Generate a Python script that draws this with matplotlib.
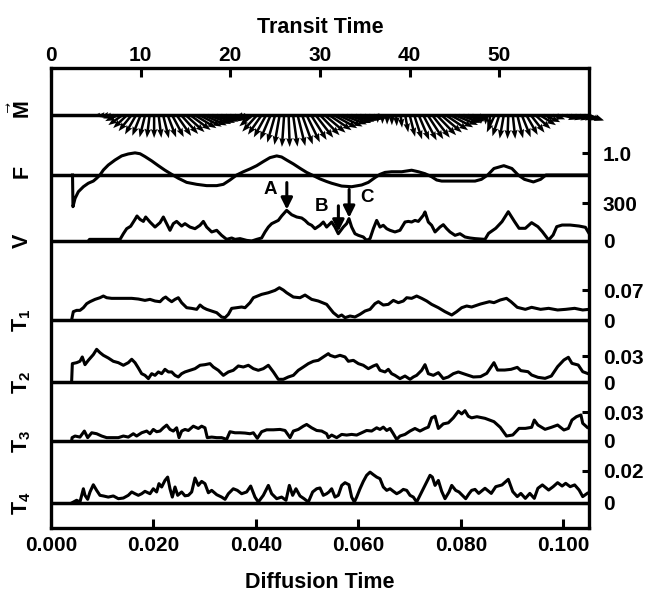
import numpy as np
import matplotlib.pyplot as plt
from matplotlib.transforms import blended_transform_factory

plt.rcParams['font.family'] = ['Liberation Sans', 'DejaVu Sans']
plt.rcParams['font.weight'] = 'bold'
plt.rcParams['axes.labelweight'] = 'bold'
plt.rcParams['mathtext.fontset'] = 'custom'
plt.rcParams['mathtext.rm'] = 'Liberation Sans:bold'
plt.rcParams['mathtext.bf'] = 'Liberation Sans:bold'
plt.rcParams['mathtext.it'] = 'Liberation Sans:bold:italic'

# ---- data (x in transit time units) ----
F_T = [2.40, 2.45, 2.68, 3.05, 3.61, 4.16, 4.72, 5.09, 5.46, 5.84,
       6.39, 7.14, 7.88, 8.62, 9.37, 9.93, 10.48, 11.23, 11.97, 12.71,
       13.46, 14.2, 15.13, 16.25, 17.36, 18.48, 19.22, 19.96, 20.71, 21.45,
       22.19, 22.94, 23.68, 24.42, 25.17, 25.72, 26.28, 27.03, 27.77, 28.51,
       29.26, 30.0, 30.74, 31.3, 32.42, 33.53, 34.65, 35.39, 36.13, 36.69,
       37.25, 37.99, 39.11, 40.22, 40.97, 41.71, 42.45, 43.01, 43.57, 45.43,
       47.29, 48.0, 48.7, 49.4, 50.5, 51.4, 52.1, 52.8, 53.8, 54.6,
       55.2, 60.0]
F_VAL = [0.0, -1.46, -1.08, -0.77, -0.54, -0.38, -0.28, -0.15, 0.0, 0.23,
         0.46, 0.69, 0.88, 0.97, 1.02, 0.98, 0.85, 0.65, 0.43, 0.22,
         0.03, -0.15, -0.34, -0.43, -0.49, -0.49, -0.43, -0.23, 0.0, 0.15,
         0.28, 0.43, 0.62, 0.80, 0.88, 0.83, 0.69, 0.51, 0.31, 0.12,
         -0.03, -0.18, -0.30, -0.38, -0.51, -0.54, -0.46, -0.34, -0.12, 0.03,
         0.12, 0.15, 0.15, 0.22, 0.15, 0.06, -0.08, -0.23, -0.28, -0.28,
         -0.28, -0.2, 0.0, 0.3, 0.43, 0.3, 0.0, -0.2, -0.32, -0.2,
         0.0, 0.0]

V_T = [4.16, 4.3, 7.70, 8.07, 8.44, 8.88, 9.37, 9.59, 9.93, 10.30,
       10.56, 11.04, 11.60, 12.16, 12.53, 12.90, 13.27, 13.64, 14.01, 14.57,
       14.94, 15.50, 16.06, 16.62, 16.99, 17.36, 17.92, 18.48, 19.03, 19.59,
       20.15, 20.52, 21.08, 21.82, 22.38, 22.94, 23.49, 23.87, 24.24, 24.61,
       24.98, 25.35, 25.72, 26.28, 26.84, 27.40, 27.96, 28.33, 28.70, 29.07,
       29.44, 30.00, 30.37, 30.74, 31.30, 31.67, 32.04, 32.60, 32.97, 33.23,
       33.53, 33.90, 34.28, 34.83, 35.20, 35.58, 35.95, 36.32, 36.69, 37.06,
       37.44, 37.81, 38.36, 38.92, 39.48, 39.85, 40.22, 40.59, 40.97, 41.52,
       41.71, 42.08, 42.45, 42.83, 43.38, 43.75, 44.13, 44.50, 45.06, 45.61,
       46.17, 46.73, 47.29, 48.4, 48.8, 49.6, 50.3, 51.0, 51.7, 52.2,
       52.9, 53.6, 54.3, 54.8, 55.5, 56.0, 56.4, 57.0, 57.9, 58.9,
       59.6, 60.0]
V_VAL = [0, 13, 13, 58, 98, 117, 172, 199, 172, 156,
         191, 151, 111, 146, 191, 138, 85, 138, 156, 119,
         138, 111, 98, 125, 156, 111, 72, 85, 45, 13,
         24, 13, 19, 5, 0, 13, 24, 72, 111, 138,
         151, 164, 199, 244, 209, 191, 183, 164, 138, 125,
         98, 125, 151, 111, 151, 111, 58, 111, 138, 178,
         111, 58, 45, 32, 5, 19, 98, 164, 111, 125,
         98, 85, 72, 85, 151, 156, 151, 164, 156, 204,
         231, 151, 125, 72, 111, 130, 98, 72, 45, 58,
         32, 24, 19, 13, 61, 101, 154, 233, 154, 101,
         101, 146, 114, 74, 8, 48, 114, 127, 127, 119,
         109, 61]

T1_T = [2.30, 2.35, 2.49, 2.86, 3.23, 3.61, 3.98, 4.35, 4.91, 5.46,
        5.84, 6.21, 6.77, 7.88, 9.0, 9.74, 10.48, 11.04, 11.60, 12.16,
        12.53, 12.79, 13.09, 13.46, 13.83, 14.20, 14.57, 15.13, 15.69, 16.25,
        16.62, 16.99, 17.36, 17.92, 18.48, 19.03, 19.41, 19.78, 20.15, 20.71,
        21.26, 21.64, 22.19, 22.57, 23.49, 24.24, 24.98, 25.47, 25.91, 26.28,
        27.03, 27.77, 28.33, 29.07, 29.81, 30.74, 31.49, 32.04, 32.42, 32.79,
        33.35, 33.90, 34.46, 35.02, 35.58, 36.13, 36.51, 37.06, 37.62, 38.18,
        38.74, 39.29, 39.67, 40.22, 40.78, 41.34, 41.90, 42.45, 43.20, 43.94,
        44.69, 45.24, 45.80, 46.36, 46.91, 47.9, 48.9, 49.4, 50.1, 50.8,
        51.3, 52.0, 52.9, 53.6, 54.6, 55.5, 56.5, 57.4, 58.4, 59.3,
        60.0]
T1_VAL = [0.0, 0.0055, 0.0197, 0.0228, 0.0228, 0.0291, 0.0386, 0.0433, 0.0488, 0.0527,
          0.0567, 0.0527, 0.0512, 0.0512, 0.0512, 0.0496, 0.0464, 0.0488, 0.0449, 0.0433,
          0.0512, 0.0543, 0.0488, 0.0433, 0.0488, 0.0527, 0.0409, 0.0291, 0.0275, 0.0252,
          0.0354, 0.0291, 0.0252, 0.0212, 0.0173, 0.0071, 0.0055, 0.0134, 0.0275, 0.0291,
          0.0307, 0.0291, 0.0409, 0.0527, 0.0606, 0.0645, 0.0700, 0.0763, 0.0708, 0.0645,
          0.0543, 0.0527, 0.0590, 0.0488, 0.0449, 0.0370, 0.0173, 0.0079, 0.0118, 0.0055,
          0.0094, 0.0071, 0.0134, 0.0212, 0.0252, 0.0386, 0.0433, 0.0354, 0.0370, 0.0464,
          0.0409, 0.0449, 0.0527, 0.0512, 0.0567, 0.0512, 0.0449, 0.0370, 0.0291, 0.0197,
          0.0118, 0.0197, 0.0291, 0.0331, 0.0307, 0.0378, 0.0433, 0.0410, 0.0473, 0.0512,
          0.0433, 0.0300, 0.0252, 0.0300, 0.0252, 0.0276, 0.0237, 0.0252, 0.0276, 0.0237,
          0.0252]

T2_T = [2.30, 2.38, 2.86, 3.23, 3.49, 3.79, 4.16, 4.72, 5.09, 5.46,
        5.84, 6.39, 6.95, 7.51, 8.07, 8.62, 9.0, 9.37, 9.74, 10.11,
        10.48, 10.86, 11.23, 11.60, 11.97, 12.34, 12.71, 13.09, 13.46, 13.83,
        14.20, 14.57, 14.94, 15.50, 16.06, 16.62, 17.17, 17.73, 18.10, 18.66,
        19.22, 19.78, 20.33, 20.89, 21.45, 22.01, 22.57, 23.12, 23.68, 24.24,
        24.80, 25.35, 25.91, 26.47, 27.03, 27.58, 28.14, 28.70, 29.26, 29.81,
        30.37, 30.93, 31.12, 31.67, 32.23, 32.79, 33.16, 33.72, 34.28, 34.83,
        35.39, 35.95, 36.32, 36.69, 37.25, 37.62, 37.99, 38.36, 38.92, 39.48,
        40.04, 40.41, 40.78, 41.34, 41.71, 42.08, 42.64, 43.20, 43.75, 44.31,
        44.87, 45.43, 45.99, 46.54, 47.10, 47.9, 48.6, 49.4, 49.8, 50.6,
        51.3, 52.0, 52.4, 53.2, 53.6, 54.3, 55.1, 55.8, 56.5, 57.2,
        57.7, 58.1, 58.8, 59.3, 59.8]
T2_VAL = [0.0, 0.0212, 0.0223, 0.0239, 0.0289, 0.0200, 0.0250, 0.0316, 0.0377, 0.0339,
          0.0308, 0.0277, 0.0239, 0.0223, 0.0193, 0.0223, 0.0262, 0.0223, 0.0162, 0.0096,
          0.0077, 0.0039, 0.0096, 0.0077, 0.0116, 0.0096, 0.0146, 0.0116, 0.0116, 0.0077,
          0.0058, 0.0096, 0.0116, 0.0135, 0.0154, 0.0193, 0.0200, 0.0212, 0.0173, 0.0135,
          0.0077, 0.0116, 0.0135, 0.0185, 0.0173, 0.0193, 0.0154, 0.0135, 0.0154, 0.0193,
          0.0116, 0.0031, 0.0031, 0.0058, 0.0077, 0.0135, 0.0173, 0.0212, 0.0239, 0.0250,
          0.0289, 0.0327, 0.0308, 0.0289, 0.0308, 0.0289, 0.0239, 0.0250, 0.0212, 0.0193,
          0.0154, 0.0185, 0.0200, 0.0135, 0.0116, 0.0146, 0.0096, 0.0077, 0.0039, 0.0069,
          0.0031, 0.0058, 0.0077, 0.0135, 0.0200, 0.0096, 0.0077, 0.0108, 0.0039, 0.0058,
          0.0096, 0.0116, 0.0096, 0.0077, 0.0058, 0.0062, 0.0100, 0.0223, 0.0138, 0.0138,
          0.0146, 0.0169, 0.0131, 0.0119, 0.0081, 0.0054, 0.0042, 0.0069, 0.0177, 0.0254,
          0.0285, 0.0215, 0.0196, 0.0119, 0.0100]

T3_T = [2.30, 2.35, 2.68, 3.23, 3.72, 4.09, 4.54, 5.09, 5.65, 6.21,
        6.77, 7.51, 8.07, 8.62, 9.18, 9.55, 10.11, 10.67, 11.04, 11.41,
        11.78, 12.16, 12.53, 12.90, 13.27, 13.64, 14.01, 14.28, 14.57, 14.94,
        15.32, 15.87, 16.43, 16.80, 17.17, 17.43, 17.92, 18.48, 19.03, 19.59,
        19.96, 20.52, 21.08, 21.64, 22.19, 22.57, 23.01, 23.49, 24.05, 24.80,
        25.54, 26.10, 26.66, 27.03, 27.58, 28.14, 28.51, 29.07, 29.63, 30.19,
        30.74, 30.93, 31.30, 31.86, 32.42, 32.97, 33.53, 34.09, 34.65, 35.20,
        35.76, 36.32, 36.69, 37.06, 37.44, 37.81, 38.18, 38.55, 38.92, 39.48,
        40.04, 40.59, 41.15, 41.71, 42.08, 42.45, 42.83, 43.20, 43.75, 44.31,
        44.87, 45.43, 45.80, 46.17, 46.54, 46.91, 47.5, 48.4, 49.4, 50.1,
        50.8, 51.5, 52.2, 52.9, 53.6, 53.9, 54.3, 55.1, 55.8, 56.5,
        57.2, 57.7, 58.1, 58.6, 59.1, 59.3, 59.8]
T3_VAL = [0.0, 0.0035, 0.0052, 0.0041, 0.0104, 0.0035, 0.0086, 0.0076, 0.0052, 0.0035,
          0.0035, 0.0035, 0.0052, 0.0041, 0.0076, 0.0052, 0.0086, 0.0104, 0.0076, 0.0121,
          0.0097, 0.0104, 0.0138, 0.0166, 0.0121, 0.0104, 0.0138, 0.0035, 0.0104, 0.0121,
          0.0110, 0.0155, 0.0131, 0.0155, 0.0138, 0.0035, 0.0041, 0.0035, 0.0035, 0.0017,
          0.0097, 0.0086, 0.0086, 0.0083, 0.0076, 0.0086, 0.0028, 0.0097, 0.0117, 0.0117,
          0.0121, 0.0110, 0.0035, 0.0104, 0.0121, 0.0155, 0.0173, 0.0138, 0.0110, 0.0104,
          0.0076, 0.0035, 0.0062, 0.0035, 0.0069, 0.0062, 0.0069, 0.0062, 0.0086, 0.0110,
          0.0104, 0.0138, 0.0121, 0.0145, 0.0110, 0.0131, 0.0076, 0.0017, 0.0052, 0.0069,
          0.0104, 0.0131, 0.0104, 0.0131, 0.0145, 0.0242, 0.0259, 0.0131, 0.0179, 0.0190,
          0.0242, 0.0311, 0.0283, 0.0317, 0.0259, 0.0242, 0.0254, 0.0237, 0.0202, 0.0143,
          0.0052, 0.0063, 0.0132, 0.0132, 0.0143, 0.0219, 0.0167, 0.0122, 0.0143, 0.0167,
          0.0115, 0.0132, 0.0219, 0.0254, 0.0272, 0.0185, 0.0143]

T4_T = [2.30, 2.86, 3.23, 3.61, 3.79, 4.09, 4.35, 4.72, 5.09, 5.46,
        5.84, 6.39, 6.95, 7.51, 8.07, 8.62, 9.0, 9.37, 9.74, 10.11,
        10.48, 11.04, 11.41, 11.78, 12.04, 12.34, 12.71, 13.01, 13.27, 13.53,
        13.83, 14.13, 14.57, 14.94, 15.32, 15.69, 16.06, 16.43, 16.80, 17.17,
        17.55, 17.92, 18.48, 19.03, 19.41, 19.78, 20.33, 20.78, 21.26, 21.82,
        22.27, 22.75, 23.12, 23.68, 24.24, 24.61, 25.17, 25.72, 26.21, 26.58,
        26.95, 27.32, 27.77, 28.22, 28.70, 29.18, 29.63, 30.0, 30.37, 30.74,
        31.0, 31.30, 31.67, 32.04, 32.42, 32.79, 33.23, 33.53, 33.83, 34.09,
        34.46, 34.83, 35.20, 35.58, 35.95, 36.32, 36.69, 37.06, 37.44, 37.81,
        38.18, 38.55, 38.92, 39.29, 39.67, 40.04, 40.41, 40.78, 41.15, 41.52,
        41.90, 42.27, 42.53, 42.83, 43.20, 43.57, 43.94, 44.39, 44.69, 45.13,
        45.50, 45.87, 46.25, 46.62, 46.91, 47.29, 47.7, 48.4, 49.1, 49.6,
        50.3, 51.0, 51.5, 52.0, 52.4, 52.9, 53.4, 53.9, 54.3, 54.8,
        55.5, 56.0, 56.5, 57.0, 57.4, 57.9, 58.4, 58.9, 59.3, 59.8]
T4_VAL = [0.0, 0.0017, 0.0006, 0.0089, 0.0048, 0.0023, 0.0069, 0.0114, 0.0079, 0.0048,
          0.0044, 0.0037, 0.0044, 0.0027, 0.0031, 0.0048, 0.0069, 0.0058, 0.0048, 0.0058,
          0.0073, 0.0058, 0.0089, 0.0069, 0.0121, 0.0100, 0.0141, 0.0162, 0.0089, 0.0037,
          0.0100, 0.0048, 0.0069, 0.0045, 0.0048, 0.0069, 0.0156, 0.0110, 0.0135, 0.0121,
          0.0064, 0.0079, 0.0052, 0.0037, 0.0023, 0.0058, 0.0089, 0.0079, 0.0058, 0.0069,
          0.0106, 0.0037, 0.0006, 0.0048, 0.0110, 0.0058, 0.0027, 0.0037, 0.0017, 0.0110,
          0.0048, 0.0089, 0.0044, 0.0027, 0.0006, 0.0069, 0.0089, 0.0094, 0.0048, 0.0058,
          0.0069, 0.0089, 0.0037, 0.0048, 0.0110, 0.0127, 0.0114, 0.0037, 0.0006, 0.0037,
          0.0089, 0.0135, 0.0173, 0.0193, 0.0177, 0.0162, 0.0152, 0.0100, 0.0079, 0.0089,
          0.0073, 0.0058, 0.0069, 0.0085, 0.0079, 0.0048, 0.0037, 0.0006, 0.0048, 0.0089,
          0.0131, 0.0173, 0.0162, 0.0110, 0.0141, 0.0073, 0.0027, 0.0069, 0.0110, 0.0079,
          0.0069, 0.0048, 0.0027, 0.0058, 0.0079, 0.0085, 0.0060, 0.0092, 0.0060, 0.0102,
          0.0113, 0.0148, 0.0071, 0.0040, 0.0060, 0.0029, 0.0060, 0.0029, 0.0092, 0.0113,
          0.0081, 0.0102, 0.0127, 0.0106, 0.0123, 0.0102, 0.0113, 0.0081, 0.0040, 0.0060]

# magnetisation arrows: time, direction (deg, 0 = right, -90 = down), length
M_T = [5.5, 6.0, 6.5, 7.0, 7.5, 8.0, 8.5, 9.0, 9.5, 10.0,
       10.5, 11.0, 11.5, 12.0, 12.5, 13.0, 13.5, 14.0, 14.5, 15.0,
       15.5, 16.0, 16.5, 17.0, 17.5, 18.0, 18.5, 19.0, 19.5, 20.0,
       20.5, 21.0, 21.5, 22.0, 22.5, 23.0, 23.5, 24.0, 24.5, 25.0,
       25.5, 26.0, 26.5, 27.0, 27.5, 28.0, 28.5, 29.0, 29.5, 30.0,
       30.5, 31.0, 31.5, 32.0, 32.5, 33.0, 33.5, 34.0, 34.5, 35.0,
       35.5, 36.0, 36.5, 37.0, 37.5, 38.0, 38.5, 39.0, 39.5, 40.0,
       40.5, 41.0, 41.5, 42.0, 42.5, 43.0, 43.5, 44.0, 44.5, 45.0,
       45.5, 46.0, 46.5, 47.0, 47.5, 48.0, 48.5, 49.0, 49.5, 50.0,
       50.5, 51.0, 51.5, 52.0, 52.5, 53.0, 53.5, 54.0, 54.5, 55.0,
       55.5, 56.0, 56.5, 57.0, 57.5, 58.0, 58.5, 59.0, 59.5, 60.0]
M_ANGLE = [-175, -172, -168, -162, -155, -145, -137, -129, -120, -112,
           -104, -97, -90, -83, -76, -69, -62, -55, -48, -42,
           -36, -31, -27, -24, -21, -19, -17, -15, -14, -13,
           -13, -14, -160, -150, -140, -132, -125, -119, -113, -106,
           -100, -94, -88, -82, -76, -70, -64, -58, -52, -46,
           -40, -34, -29, -25, -21, -18, -16, -14, -13, -13,
           -14, -16, -95, -93, -91, -89, -87, -84, -80, -76,
           -72, -67, -62, -57, -52, -46, -40, -34, -28, -23,
           -19, -16, -14, -13, -95, -93, -92, -100, -115, -108,
           -100, -92, -84, -76, -68, -60, -52, -42, -32, -24,
           -85, -20, -88, -16, -14, -13, -13, -14, -16, -20]
M_LEN = [0.2, 0.25, 0.3, 0.35, 0.45, 0.55, 0.6, 0.65, 0.7, 0.7,
         0.72, 0.72, 0.72, 0.72, 0.75, 0.75, 0.78, 0.8, 0.8, 0.8,
         0.8, 0.8, 0.8, 0.8, 0.78, 0.75, 0.7, 0.65, 0.6, 0.55,
         0.5, 0.4, 0.3, 0.4, 0.55, 0.7, 0.75, 0.8, 0.85, 0.9,
         0.95, 1.0, 1.0, 1.0, 1.0, 0.98, 0.95, 0.92, 0.9, 0.88,
         0.86, 0.85, 0.85, 0.85, 0.82, 0.8, 0.75, 0.7, 0.65, 0.6,
         0.5, 0.4, 0.25, 0.28, 0.3, 0.32, 0.35, 0.4, 0.55, 0.7,
         0.8, 0.85, 0.9, 0.9, 0.9, 0.88, 0.85, 0.85, 0.82, 0.8,
         0.75, 0.7, 0.6, 0.5, 0.25, 0.28, 0.3, 0.4, 0.6, 0.7,
         0.75, 0.75, 0.75, 0.75, 0.75, 0.72, 0.7, 0.65, 0.6, 0.55,
         0.2, 0.4, 0.2, 0.5, 0.55, 0.6, 0.6, 0.6, 0.6, 0.5]

TOP_TICKS = [0, 10, 20, 30, 40, 50]
BOTTOM_TICKS = [0.000, 0.020, 0.040, 0.060, 0.080, 0.100]
DIFF_PER_TRANSIT = 0.105 / 60

# ---- layout (pixels of the 662x594 picture) ----
W, H = 662, 594
X0, X1, YT, YB = 51, 589, 68, 528
RECT = [X0 / W, 1 - YB / H, (X1 - X0) / W, (YB - YT) / H]
FS = 15

fig = plt.figure(figsize=(W / 100, H / 100), dpi=100)

frame = fig.add_axes(RECT, label='frame')
frame.set_xlim(0, 60)
frame.set_ylim(0, 1)
frame.set_yticks([])
for s in frame.spines.values():
    s.set_linewidth(2.4)
frame.xaxis.tick_top()
frame.set_xticks(TOP_TICKS)
frame.tick_params(axis='x', direction='in', length=6.5, width=2.2, pad=2.5, labelsize=FS)
frame.xaxis.set_label_position('top')
frame.set_xlabel('Transit Time', fontsize=15.5, fontweight='bold', labelpad=9)

sec = frame.secondary_xaxis('bottom', functions=(lambda t: t * DIFF_PER_TRANSIT,
                                                  lambda d: d / DIFF_PER_TRANSIT))
sec.set_xticks(BOTTOM_TICKS, ['%.3f' % d for d in BOTTOM_TICKS])
sec.tick_params(direction='in', length=6.5, width=2.2, pad=6, labelsize=FS)
sec.spines['bottom'].set_visible(False)
sec.set_xlabel('Diffusion Time', fontsize=15.5, fontweight='bold', labelpad=12)


def panel(name, base, px_per_unit, ticks=(), labels=()):
    ax = fig.add_axes(RECT, label=name, sharex=frame)
    ax.patch.set_visible(False)
    for s in ax.spines.values():
        s.set_visible(False)
    ax.set_ylim((base - YB) / px_per_unit, (base - YT) / px_per_unit)
    ax.tick_params(axis='x', bottom=False, top=False, labelbottom=False, labeltop=False)
    ax.yaxis.tick_right()
    ax.set_yticks(list(ticks), list(labels))
    ax.tick_params(axis='y', direction='in', length=5, width=2.2, pad=10, labelsize=FS)
    ax.axhline(0, color='k', lw=2.5)
    return ax


ax_m = panel('M', 115, 32)
ax_f = panel('F', 175, 21.7, [1.0], ['1.0'])
ax_v = panel('V', 241, 37.7 / 300, [0, 300], ['0', '300'])
ax_t1 = panel('T1', 320, 29.6 / 0.07, [0, 0.07], ['0', '0.07'])
ax_t2 = panel('T2', 382, 26.0 / 0.03, [0, 0.03], ['0', '0.03'])
ax_t3 = panel('T3', 441, 28.7 / 0.03, [0, 0.03], ['0', '0.03'])
ax_t4 = panel('T4', 503, 32.0 / 0.02, [0, 0.02], ['0', '0.02'])

line_kw = dict(color='k', lw=2.2, solid_joinstyle='round', clip_on=False)
ax_f.plot(F_T, F_VAL, **line_kw)
ax_v.plot(V_T, V_VAL, **line_kw)
ax_t1.plot(T1_T, T1_VAL, **line_kw)
ax_t2.plot(T2_T, T2_VAL, **line_kw)
ax_t3.plot(T3_T, T3_VAL, **line_kw)
ax_t4.plot(T4_T, T4_VAL, **line_kw)

# magnetisation vectors hanging from the baseline
ang = np.radians(M_ANGLE)
mu = np.array(M_LEN) * np.cos(ang)
mv = np.array(M_LEN) * np.sin(ang)
q = ax_m.quiver(M_T, np.zeros(len(M_T)), mu, mv, angles='uv', scale_units='inches',
                scale=1 / 0.32, units='dots', width=2.5, headwidth=2.6,
                headlength=3.6, headaxislength=3.2, pivot='tail', color='k')
q.set_clip_on(False)

# A, B, C markers on the V trace
arrow_kw = dict(arrowstyle='-|>', color='k', lw=2.2, mutation_scale=17, shrinkA=0, shrinkB=0)
ax_v.annotate('', xy=(26.3, 250), xytext=(26.3, 465), arrowprops=arrow_kw, annotation_clip=False)
ax_v.annotate('', xy=(32.05, 75), xytext=(32.05, 280), arrowprops=arrow_kw, annotation_clip=False)
ax_v.annotate('', xy=(33.25, 185), xytext=(33.25, 410), arrowprops=arrow_kw, annotation_clip=False)
ax_v.text(24.5, 406, 'A', ha='center', va='center', fontsize=13.5)
ax_v.text(30.2, 273, 'B', ha='center', va='center', fontsize=13.5)
ax_v.text(35.25, 346, 'C', ha='center', va='center', fontsize=13.5)

# row names on the left
LX = (22 - X0) / (X1 - X0)
for ax, name, y in [(ax_m, r'$\vec{\mathbf{M}}$', 0.16), (ax_f, 'F', 0.18),
                    (ax_v, 'V', 0), (ax_t1, r'$\mathbf{T_1}$', 0),
                    (ax_t2, r'$\mathbf{T_2}$', 0), (ax_t3, r'$\mathbf{T_3}$', 0),
                    (ax_t4, r'$\mathbf{T_4}$', 0)]:
    tr = blended_transform_factory(ax.transAxes, ax.transData)
    ax.text(LX, y, name, transform=tr, rotation=90, ha='center', va='center', fontsize=15.5)

fig.savefig('out.png', dpi=100)
